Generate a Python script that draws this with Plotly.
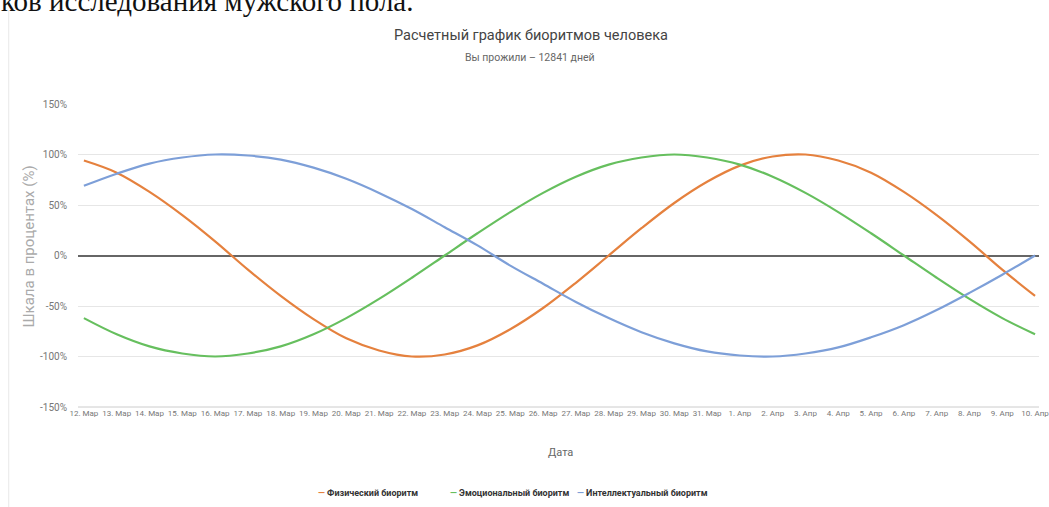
import plotly.graph_objects as go

# Dates on the x axis
dates = [f"{d}. Мар" for d in range(12, 32)] + [f"{d}. Апр" for d in range(1, 11)]

# Biorhythm values, percent
physical = [94, 82, 63, 40, 14, -14, -40, -63, -82, -94, -100, -98, -89, -73, -52,
            -27, 0, 27, 52, 73, 89, 98, 100, 94, 82, 63, 40, 14, -14, -40]
emotional = [-62, -78, -90, -97, -100, -97, -90, -78, -62, -43, -22, 0, 22, 43, 62,
             78, 90, 97, 100, 97, 90, 78, 62, 43, 22, 0, -22, -43, -62, -78]
intellectual = [69, 81, 91, 97, 100, 99, 95, 87, 76, 62, 46, 28, 10, -10, -28,
                -46, -62, -76, -87, -95, -99, -100, -97, -91, -81, -69, -54, -37, -19, 0]

y_ticks = [-150, -100, -50, 0, 50, 100, 150]
y_tick_labels = [f"{v}%" for v in y_ticks]

series = [
    ("Физический биоритм", physical, "#e5813e"),
    ("Эмоциональный биоритм", emotional, "#66bf5e"),
    ("Интеллектуальный биоритм", intellectual, "#7d9fd8"),
]

FONT = "Roboto, sans-serif"

W, H = 1049, 507
L, R, T, B = 78, 0, 104, 100
pw, ph = W - L - R, H - T - B


def px(x):
    return (x - L) / pw


def py(y):
    return (H - B - y) / ph


fig = go.Figure()
for name, vals, color in series:
    fig.add_trace(go.Scatter(
        x=dates, y=vals, name=name, mode="lines",
        line=dict(color=color, width=2.2, shape="spline"),
        showlegend=False,
    ))

# Compact legend: short coloured dash followed by the series name
legend_x = [371, 514, 648]
annotations = []
for (name, _, color), lx in zip(series, legend_x):
    annotations.append(dict(
        text=f"<span style='color:{color}'><b>—</b></span> <b>{name}</b>",
        x=px(lx), y=py(493), xref="paper", yref="paper", showarrow=False,
        xanchor="center", yanchor="middle",
        font=dict(family=FONT, size=9, color="#333333"),
    ))

annotations += [
    dict(text="Расчетный график биоритмов человека", x=px(536), y=py(35),
         xref="paper", yref="paper", showarrow=False, xanchor="center", yanchor="middle",
         font=dict(family=FONT, size=14.5, color="#444444")),
    dict(text="Вы прожили – 12841 дней", x=px(535), y=py(58),
         xref="paper", yref="paper", showarrow=False, xanchor="center", yanchor="middle",
         font=dict(family=FONT, size=10.5, color="#666666")),
    dict(text="Дата", x=px(566), y=py(452),
         xref="paper", yref="paper", showarrow=False, xanchor="center", yanchor="middle",
         font=dict(family=FONT, size=11, color="#666666")),
    dict(text="Шкала в процентах (%)", x=px(28), y=py(247), textangle=-90,
         xref="paper", yref="paper", showarrow=False, xanchor="center", yanchor="middle",
         font=dict(family=FONT, size=15, color="#aaaaaa")),
    dict(text="ков исследования мужского пола.", x=px(-2), y=py(1),
         xref="paper", yref="paper", showarrow=False, xanchor="left", yanchor="middle",
         font=dict(family="Liberation Serif, DejaVu Serif, serif", size=29, color="#111111")),
]

fig.update_layout(
    width=W, height=H,
    margin=dict(l=L, r=R, t=T, b=B),
    paper_bgcolor="white", plot_bgcolor="white",
    showlegend=False,
    xaxis=dict(
        type="category", range=[-0.18, 29.12],
        tickmode="array", tickvals=dates, ticktext=dates,
        tickfont=dict(family=FONT, size=8, color="#777777"),
        showgrid=False, zeroline=False,
        showline=False, ticks="", tickangle=0,
    ),
    yaxis=dict(
        range=[-150, 150], tickmode="array", tickvals=y_ticks, ticktext=y_tick_labels,
        tickfont=dict(family=FONT, size=10, color="#777777"),
        showgrid=True, gridcolor="#e6e6e6", gridwidth=1,
        zeroline=True, zerolinecolor="#666666", zerolinewidth=2,
        showline=False, ticks="", ticklabelstandoff=10,
    ),
    annotations=annotations,
    shapes=[
        dict(type="line", xref="paper", yref="paper", x0=0, x1=1, y0=0, y1=0,
             line=dict(color="#cccccc", width=1)),
        dict(type="line", xref="paper", yref="paper", x0=px(8), x1=px(8), y0=py(10), y1=py(507),
             line=dict(color="#e8e8e8", width=1)),
    ],
)

fig.write_html("out.html")
